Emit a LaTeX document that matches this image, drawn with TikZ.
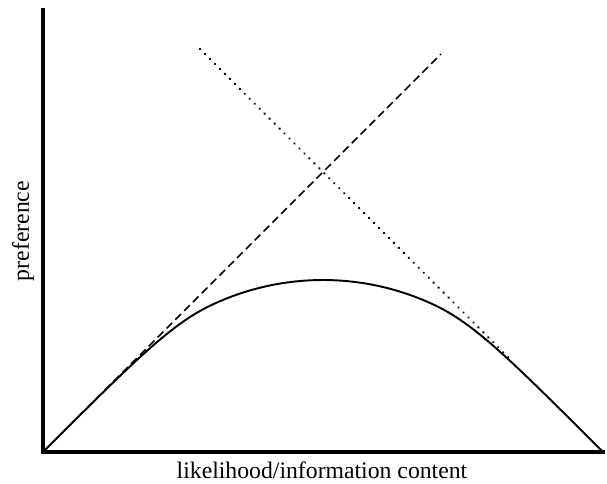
\documentclass[tikz,border=0pt]{standalone}
\usepackage{fontspec}
\setmainfont{Liberation Serif}
\usetikzlibrary{positioning,calc}

\begin{document}
\begin{tikzpicture}[
  axis/.style={line width=2pt, line cap=rect},
  utility/.style={line width=1.1pt},
  gain/.style={line width=1pt, dash pattern=on 4.5pt off 2.6pt},
  cost/.style={line width=1.4pt, line cap=round, dash pattern=on 0.1pt off 3.9pt},
  axislab/.style={font=\fontsize{13.5}{16}\selectfont, inner sep=0pt}
]
\useasboundingbox (-0.86,-0.62) rectangle (11.28,9.04);

% ---------- Axes ----------
\coordinate (O)    at (0,0);
\coordinate (Ytop) at (0,8.84);
\coordinate (Xend) at (11.2,0);
\draw[axis] (Ytop) -- (O) -- (Xend);

\node[axislab, rotate=90] (ylab) at (-0.4,4.42) {preference};
\node[axislab] (xlab) at (5.58,-0.36) {likelihood/information content};

% ---------- Curve ----------
\coordinate (A1) at (3.395,2.951);
\draw[utility] (O) .. controls (1.9,1.9) and (2.58,2.57) .. (A1)
               arc[start angle=115, end angle=65, radius=5.217]
               .. controls (8.62,2.57) and (9.3,1.9) .. (Xend);

% ---------- Tangents ----------
\coordinate (G1) at (7.96,7.96);
\coordinate (C0) at (3.14,8.06);
\coordinate (Tr) at (9.34,1.86);
\draw[gain] (O) -- (G1);
\draw[cost] (C0) -- (Tr);

\end{tikzpicture}
\end{document}
